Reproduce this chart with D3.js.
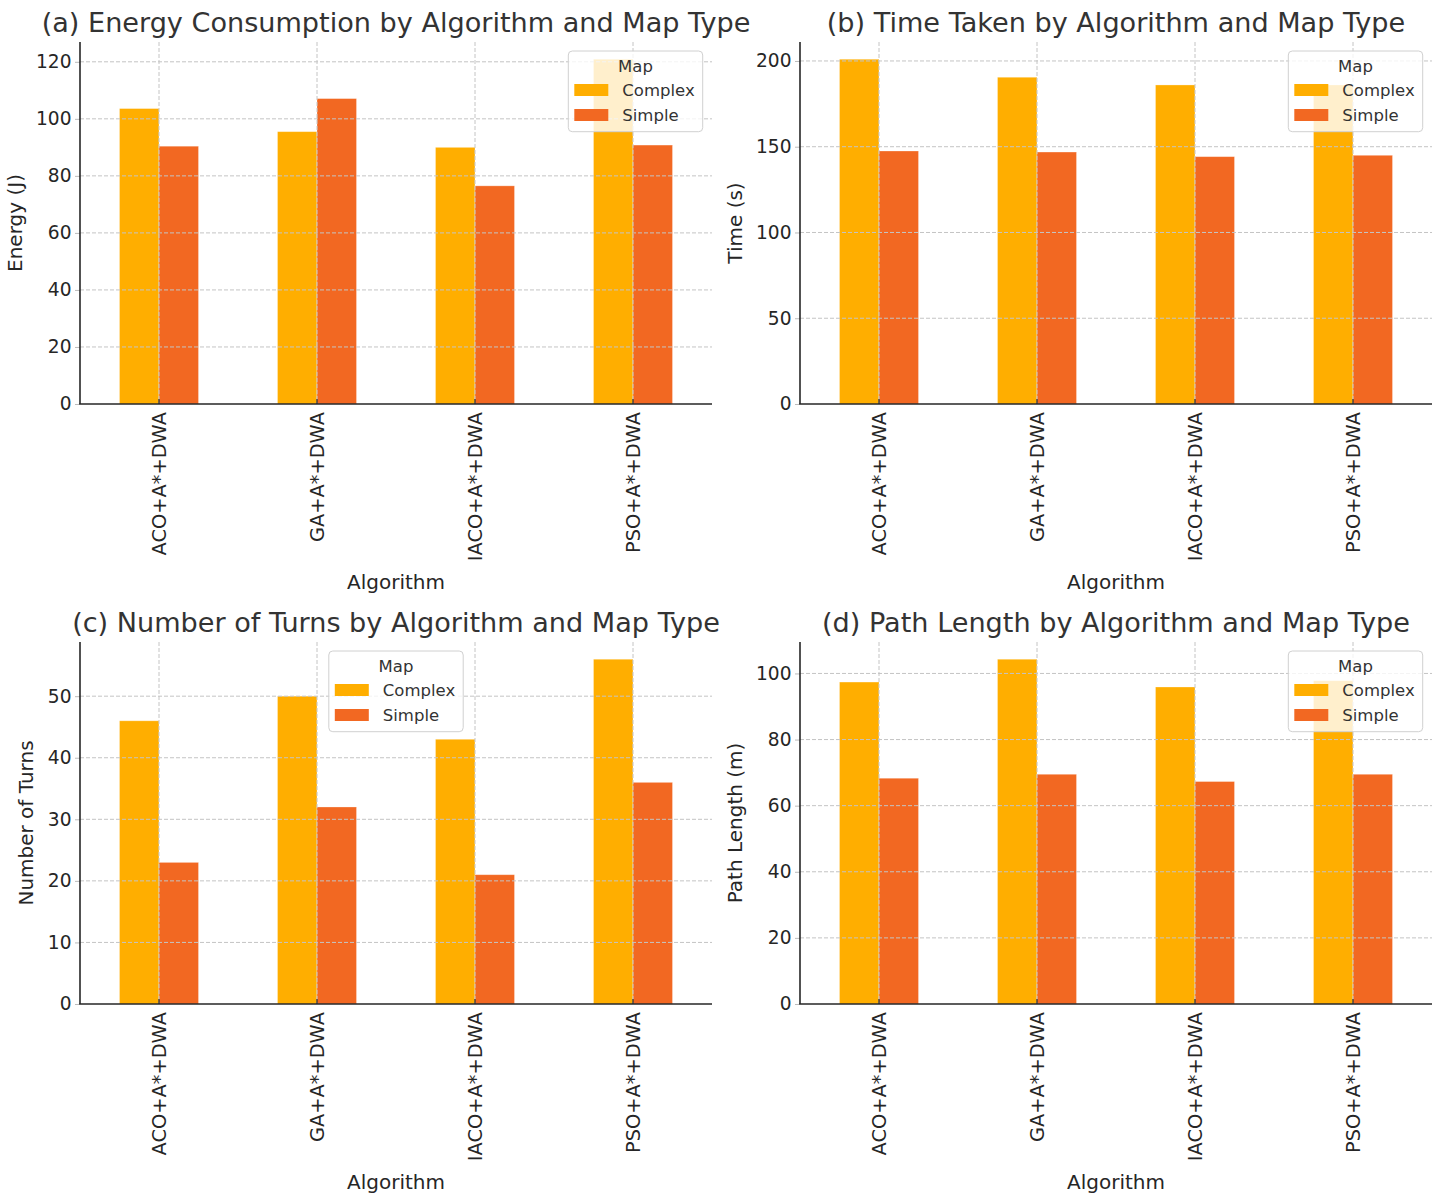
<!DOCTYPE html>
<html>
<head>
<meta charset="utf-8">
<script src="https://cdn.jsdelivr.net/npm/d3@7"></script>
<style>
	body { margin: 0; background: #fff; }
	svg { display: block; font-family: "DejaVu Sans", sans-serif; }
</style>
</head>
<body>
<svg id="chart" width="1444" height="1195"></svg>
<script>
const algorithms = ['ACO+A*+DWA', 'GA+A*+DWA', 'IACO+A*+DWA', 'PSO+A*+DWA'];
const mapTypes = ['Complex', 'Simple'];

const energyComplex = [103.6, 95.5, 90.0, 120.9];
const energySimple = [90.4, 107.1, 76.5, 90.8];
const timeComplex = [201.0, 190.5, 186.0, 186.0];
const timeSimple = [147.5, 146.9, 144.2, 145.0];
const turnsComplex = [46, 50, 43, 56];
const turnsSimple = [23, 32, 21, 36];
const pathComplex = [97.4, 104.3, 95.9, 97.8];
const pathSimple = [68.3, 69.5, 67.3, 69.5];

const energyTicks = [0, 20, 40, 60, 80, 100, 120];
const timeTicks = [0, 50, 100, 150, 200];
const turnsTicks = [0, 10, 20, 30, 40, 50];
const pathTicks = [0, 20, 40, 60, 80, 100];

const colors = { Complex: '#FFAE00', Simple: '#F26822' };

const panels = [
	{ title: '(a) Energy Consumption by Algorithm and Map Type', ylabel: 'Energy (J)',
		complex: energyComplex, simple: energySimple, ticks: energyTicks, left: 80, top: 42, legend: 'right' },
	{ title: '(b) Time Taken by Algorithm and Map Type', ylabel: 'Time (s)',
		complex: timeComplex, simple: timeSimple, ticks: timeTicks, left: 800, top: 42, legend: 'right' },
	{ title: '(c) Number of Turns by Algorithm and Map Type', ylabel: 'Number of Turns',
		complex: turnsComplex, simple: turnsSimple, ticks: turnsTicks, left: 80, top: 642, legend: 'center' },
	{ title: '(d) Path Length by Algorithm and Map Type', ylabel: 'Path Length (m)',
		complex: pathComplex, simple: pathSimple, ticks: pathTicks, left: 800, top: 642, legend: 'right' },
];

const width = 632;
const height = 362;
const svg = d3.select('#chart');

panels.forEach((p) => drawPanel(p));

function drawPanel(p) {
	const g = svg.append('g').attr('transform', `translate(${p.left},${p.top})`);
	const rows = algorithms.map((a, i) => ({ algo: a, Complex: p.complex[i], Simple: p.simple[i] }));
	const ymax = d3.max(rows, (d) => Math.max(d.Complex, d.Simple)) * 1.05;

	const x = d3.scaleBand().domain(algorithms).range([0, width]).padding(0);
	const bw = x.bandwidth() * 0.25;
	const xs = d3.scaleBand().domain(mapTypes).range([0, bw * 2]);
	const y = d3.scaleLinear().domain([0, ymax]).range([height, 0]);

	// bars
	rows.forEach((d) => {
		g.selectAll(null).data(mapTypes).enter().append('rect')
			.attr('x', (m) => x(d.algo) + x.bandwidth() / 2 - bw + xs(m))
			.attr('y', (m) => y(d[m]))
			.attr('width', bw)
			.attr('height', (m) => height - y(d[m]))
			.attr('fill', (m) => colors[m])
			.attr('stroke', '#fff')
			.attr('stroke-opacity', 0.35)
			.attr('stroke-width', 0.8);
	});

	// grid (drawn over bars)
	g.append('g').selectAll('line').data(p.ticks.filter((t) => t > 0)).enter().append('line')
		.attr('x1', 0).attr('x2', width)
		.attr('y1', (t) => y(t)).attr('y2', (t) => y(t))
		.attr('stroke', '#c4c4c4').attr('stroke-width', 1).attr('stroke-dasharray', '4,2');
	g.append('g').selectAll('line').data(algorithms).enter().append('line')
		.attr('x1', (a) => x(a) + x.bandwidth() / 2).attr('x2', (a) => x(a) + x.bandwidth() / 2)
		.attr('y1', 0).attr('y2', height)
		.attr('stroke', '#c4c4c4').attr('stroke-width', 1).attr('stroke-dasharray', '4,2');

	// y axis
	const yAxis = g.append('g').call(d3.axisLeft(y).tickValues(p.ticks).tickSize(5).tickPadding(3.5));
	yAxis.select('.domain').remove();
	yAxis.selectAll('.tick line').attr('stroke', '#bbb');
	yAxis.selectAll('.tick text').attr('font-size', 18.6).attr('fill', '#262626')
		.attr('font-family', '"DejaVu Sans", sans-serif');

	// x axis
	const xAxis = g.append('g').attr('transform', `translate(0,${height})`)
		.call(d3.axisBottom(x).tickSize(-5).tickPadding(8));
	xAxis.select('.domain').remove();
	xAxis.selectAll('.tick line').attr('stroke', '#262626').attr('stroke-width', 1.2);
	xAxis.selectAll('.tick text')
		.attr('font-size', 19.4).attr('fill', '#262626')
		.attr('font-family', '"DejaVu Sans", sans-serif')
		.attr('text-anchor', 'end')
		.attr('transform', 'translate(0,8) rotate(-90)')
		.attr('x', 0).attr('y', 0).attr('dy', '0.36em');

	// spines
	g.append('line').attr('x1', 0).attr('x2', 0).attr('y1', 0).attr('y2', height)
		.attr('stroke', '#262626').attr('stroke-width', 1.6);
	g.append('line').attr('x1', -0.8).attr('x2', width).attr('y1', height).attr('y2', height)
		.attr('stroke', '#262626').attr('stroke-width', 1.6);

	// titles and labels
	g.append('text').attr('x', width / 2).attr('y', -10)
		.attr('text-anchor', 'middle').attr('font-size', 27.1).attr('fill', '#333')
		.text(p.title);
	g.append('text').attr('x', width / 2).attr('y', 547)
		.attr('text-anchor', 'middle').attr('font-size', 20).attr('fill', '#262626')
		.text('Algorithm');

	// y label sits just left of the widest tick label
	let tickLeft = 0;
	yAxis.selectAll('.tick text').each(function () {
		tickLeft = Math.min(tickLeft, this.getBBox().x);
	});
	g.append('text')
		.attr('transform', `translate(${tickLeft - 14.5},${height / 2}) rotate(-90)`)
		.attr('text-anchor', 'middle').attr('font-size', 20).attr('fill', '#262626')
		.text(p.ylabel);

	// legend
	const lw = 134.4;
	const lh = 80.7;
	const lx = p.legend === 'right' ? width - 9.3 - lw : width / 2 - lw / 2;
	const ly = 9;
	const lg = g.append('g').attr('transform', `translate(${lx},${ly})`);
	lg.append('rect').attr('width', lw).attr('height', lh).attr('rx', 4)
		.attr('fill', '#fff').attr('fill-opacity', 0.8)
		.attr('stroke', '#d0d0d0').attr('stroke-width', 1);
	lg.append('text').attr('x', lw / 2).attr('y', 20.7)
		.attr('text-anchor', 'middle').attr('font-size', 16.5).attr('fill', '#333')
		.text('Map');
	mapTypes.forEach((m, i) => {
		const cy = 39 + i * 25;
		lg.append('rect').attr('x', 6).attr('y', cy - 6).attr('width', 34).attr('height', 12)
			.attr('fill', colors[m]);
		lg.append('text').attr('x', 54).attr('y', cy + 6)
			.attr('font-size', 16.5).attr('fill', '#333').text(m);
	});
}
</script>
</body>
</html>
